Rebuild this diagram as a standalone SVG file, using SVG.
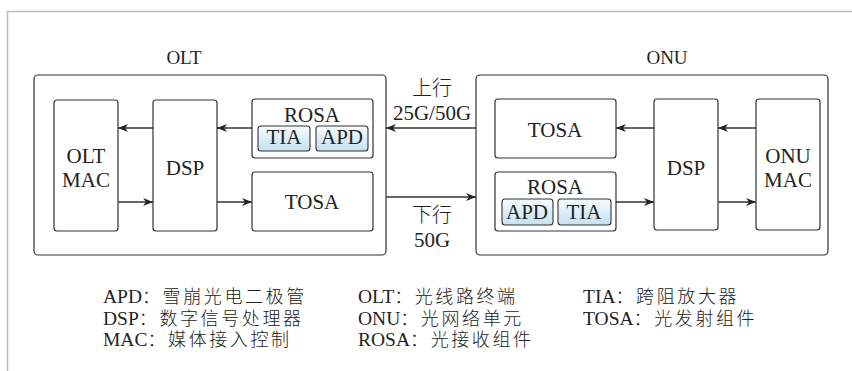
<svg xmlns="http://www.w3.org/2000/svg" width="852" height="371" viewBox="0 0 852 371">
<style>
.frame{fill:none;stroke:#bdbdbd;stroke-width:1.5}
.box{fill:#fff;stroke:#333;stroke-width:1.2}
.chip{fill:url(#chipGrad);stroke:#333;stroke-width:1.1}
.t{font-family:'Liberation Serif',serif;font-size:21px;fill:#222;text-anchor:middle}
.tl{font-family:'Liberation Serif',serif;font-size:19.5px;fill:#222}
.cjk{font-family:'Noto Sans CJK SC',sans-serif;font-weight:300}
.lc{font-size:18px;letter-spacing:2.6px}
.ln{fill:none;stroke:#333;stroke-width:1.3;marker-end:url(#arr)}
</style>
<defs>
<linearGradient id="chipGrad" x1="0" y1="0" x2="0" y2="1">
<stop offset="0" stop-color="#f5fbfe"/>
<stop offset="1" stop-color="#c4e1f1"/>
</linearGradient>
<marker id="arr" markerUnits="userSpaceOnUse" markerWidth="12" markerHeight="10" refX="10" refY="4" orient="auto">
<path d="M0,0 L10,4 L0,8 L3,4 z" fill="#222"/>
</marker>
</defs>
<rect width="852" height="371" fill="#fff"/>
<path class="frame" d="M7.5,371 V11.5 H852"/>

<g id="olt">
<rect class="box" x="34" y="75" width="352" height="180" rx="4"/>
<text class="t" x="184" y="64" style="font-size:19px">OLT</text>
</g>
<g id="olt-mac">
<rect class="box" x="54" y="100" width="64" height="131" rx="3"/>
<text class="t" x="86" y="163">OLT</text>
<text class="t" x="86" y="187">MAC</text>
</g>
<g id="olt-dsp">
<rect class="box" x="153" y="100" width="64" height="131" rx="3"/>
<text class="t" x="185" y="175">DSP</text>
</g>
<g id="olt-rosa">
<rect class="box" x="252" y="99" width="121" height="59" rx="3"/>
<text class="t" x="312" y="122">ROSA</text>
<rect class="chip" x="258" y="126" width="52" height="25" rx="3"/>
<text class="t" x="284" y="144">TIA</text>
<rect class="chip" x="316" y="126" width="52" height="25" rx="3"/>
<text class="t" x="342" y="144">APD</text>
</g>
<g id="olt-tosa">
<rect class="box" x="252" y="172" width="121" height="59" rx="3"/>
<text class="t" x="312" y="209">TOSA</text>
</g>

<g id="onu">
<rect class="box" x="476" y="75" width="352" height="180" rx="4"/>
<text class="t" x="667" y="64" style="font-size:19px">ONU</text>
</g>
<g id="onu-tosa">
<rect class="box" x="495" y="99" width="121" height="59" rx="3"/>
<text class="t" x="555" y="137">TOSA</text>
</g>
<g id="onu-rosa">
<rect class="box" x="495" y="172" width="121" height="59" rx="3"/>
<text class="t" x="555" y="194">ROSA</text>
<rect class="chip" x="502" y="199" width="51" height="26" rx="3"/>
<text class="t" x="527" y="219">APD</text>
<rect class="chip" x="558" y="199" width="53" height="26" rx="3"/>
<text class="t" x="584" y="219">TIA</text>
</g>
<g id="onu-dsp">
<rect class="box" x="654" y="99" width="64" height="131" rx="3"/>
<text class="t" x="686" y="175">DSP</text>
</g>
<g id="onu-mac">
<rect class="box" x="756" y="99" width="64" height="131" rx="3"/>
<text class="t" x="788" y="163">ONU</text>
<text class="t" x="788" y="187">MAC</text>
</g>

<g id="connectors">
<path class="ln" d="M252,128 H217"/>
<path class="ln" d="M153,128 H118"/>
<path class="ln" d="M118,202 H153"/>
<path class="ln" d="M217,202 H252"/>
<path class="ln" d="M476,128 H386"/>
<path class="ln" d="M386,197 H476"/>
<path class="ln" d="M756,128 H718"/>
<path class="ln" d="M654,128 H616"/>
<path class="ln" d="M616,202 H654"/>
<path class="ln" d="M718,202 H756"/>
</g>

<g id="link-labels">
<text class="t cjk" x="432" y="95" style="font-size:20px">上行</text>
<text class="t" x="432" y="120">25G/50G</text>
<text class="t cjk" x="432" y="222" style="font-size:20px">下行</text>
<text class="t" x="432" y="247">50G</text>
</g>

<g id="legend">
<text class="tl" x="103" y="303">APD<tspan class="cjk lc">：雪崩光电二极管</tspan></text>
<text class="tl" x="103" y="325">DSP<tspan class="cjk lc">：数字信号处理器</tspan></text>
<text class="tl" x="103" y="346">MAC<tspan class="cjk lc">：媒体接入控制</tspan></text>
<text class="tl" x="358" y="303">OLT<tspan class="cjk lc">：光线路终端</tspan></text>
<text class="tl" x="358" y="325">ONU<tspan class="cjk lc">：光网络单元</tspan></text>
<text class="tl" x="358" y="346">ROSA<tspan class="cjk lc">：光接收组件</tspan></text>
<text class="tl" x="583" y="303">TIA<tspan class="cjk lc">：跨阻放大器</tspan></text>
<text class="tl" x="583" y="325">TOSA<tspan class="cjk lc">：光发射组件</tspan></text>
</g>
</svg>
